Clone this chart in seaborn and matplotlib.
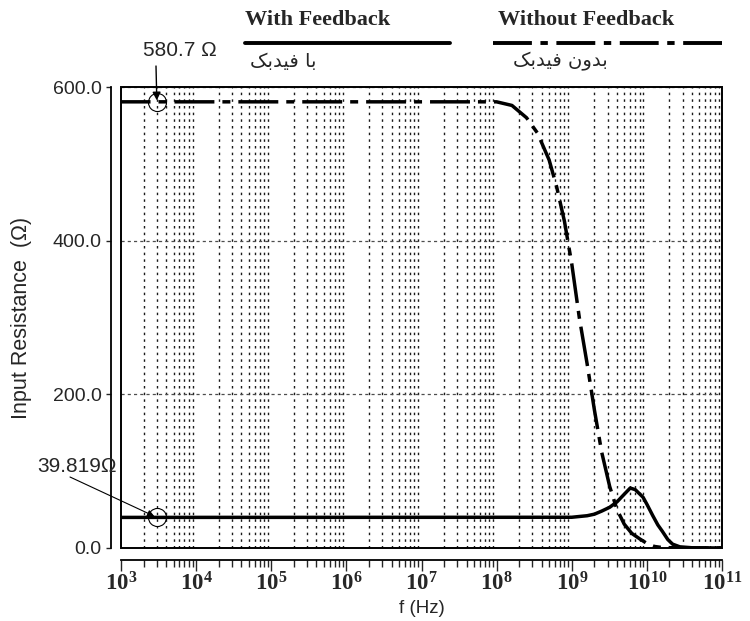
import numpy as np
import pandas as pd
import matplotlib
matplotlib.use('Agg')
import matplotlib.pyplot as plt
import seaborn as sns
from matplotlib.lines import Line2D
from matplotlib.patches import Rectangle
from matplotlib.ticker import FixedLocator, FuncFormatter, NullFormatter

# ---------------- data ----------------
freq_without = [1e3, 1e8, 1.6e8, 2.5e8, 3.5e8, 5e8, 6.3e8, 8e8, 1e9, 1.26e9,
                1.6e9, 2e9, 2.5e9, 3.2e9, 4e9, 5e9, 6.3e9, 8e9, 1e10, 1.26e10,
                1.6e10, 3.2e10, 1e11]
r_without = [580.7, 580.7, 576, 560, 540, 505, 470, 425, 370, 300,
             240, 180, 125, 80, 50, 31, 19, 12, 6, 2,
             0.6, 0, 0]

freq_with = [1e3, 1e9, 1.26e9, 1.6e9, 2e9, 2.5e9, 3.2e9, 4e9, 5e9, 6e9,
             7e9, 8.9e9, 1e10, 1.2e10, 1.4e10, 1.6e10, 1.9e10, 2.2e10, 2.75e10,
             4e10, 1e11]
r_with = [39.819, 40, 41, 42, 44, 48, 53, 60, 70, 78,
          76, 66, 57, 42, 30, 22, 11, 5, 1.5,
          0.3, 0]

y_ticks = [0, 200, 400, 600]
y_ticklabels = ['0.0', '200.0', '400.0', '600.0']
x_decades = [3, 4, 5, 6, 7, 8, 9, 10, 11]

label_with = 'With Feedback'
label_without = 'Without Feedback'
# Persian labels in shaped presentation forms, visual (left-to-right) order
fa_with = '\uFB8F\uFE91\uFEAA\uFBFF\uFED3 \uFE8E\uFE91'          # با فیدبک
fa_without = '\uFB8F\uFE91\uFEAA\uFBFF\uFED3 \uFEE5\uFEED\uFEAA\uFE91'  # بدون فیدبک

mark_freq = 3e3
mark_hi = 580.7
mark_lo = 39.819
mark_hi_text = '580.7 Ω'
mark_lo_text = '39.819Ω'

# ---------------- style ----------------
sns.set_style('white')
plt.rcParams['font.family'] = ['Liberation Sans', 'DejaVu Sans']
plt.rcParams['mathtext.fontset'] = 'custom'
plt.rcParams['mathtext.rm'] = 'Liberation Serif'
plt.rcParams['mathtext.it'] = 'Liberation Serif:italic'
plt.rcParams['mathtext.bf'] = 'Liberation Serif:bold'

W, H = 750, 621
fig = plt.figure(figsize=(W / 100, H / 100), dpi=100)
x0, x1, ytop, ybot = 121, 722, 87, 548
ax = fig.add_axes([x0 / W, 1 - ybot / H, (x1 - x0) / W, (ybot - ytop) / H])
ax.set_xscale('log')

dashdot = (3, (11.5, 2.3, 2.3, 2.3))
df_wo = pd.DataFrame({'f': freq_without, 'R': r_without})
df_w = pd.DataFrame({'f': freq_with, 'R': r_with})
sns.lineplot(data=df_wo, x='f', y='R', ax=ax, color='black', lw=2.5,
             linestyle=dashdot, errorbar=None, zorder=5)
sns.lineplot(data=df_w, x='f', y='R', ax=ax, color='black', lw=2.5,
             errorbar=None, zorder=5)

ax.set_xlim(1e3, 1e11)
ax.set_ylim(0, 600)

# ticks
ax.xaxis.set_major_locator(FixedLocator([10.0 ** d for d in x_decades]))
minors = [m * 10.0 ** d for d in x_decades[:-1] for m in range(2, 10)]
ax.xaxis.set_minor_locator(FixedLocator(minors))
ax.xaxis.set_major_formatter(FuncFormatter(
    lambda v, p: r'$\mathbf{10^{%d}}$' % int(round(np.log10(v)))))
ax.xaxis.set_minor_formatter(NullFormatter())
ax.set_yticks(y_ticks)
ax.set_yticklabels(y_ticklabels)

ax.tick_params(axis='x', which='major', direction='out', length=8, width=1,
               labelsize=16.5, pad=1, bottom=True)
ax.tick_params(axis='x', which='minor', direction='out', length=5, width=1,
               bottom=True)
ax.tick_params(axis='y', which='major', direction='out', length=3.5, width=1,
               labelsize=14, pad=3, left=True)

# grid
ax.grid(False)
ax.grid(which='minor', axis='x', color='0.1', linestyle=(0, (1.8, 3.0)), lw=1.0)
ax.grid(which='major', axis='y', color='0.3', linestyle=(0, (2.5, 2.5)), lw=0.9)

# spines: offset axes, plus a frame
for s in ['top', 'right']:
    ax.spines[s].set_visible(False)
ax.spines['bottom'].set_position(('outward', 8.5))
ax.spines['left'].set_position(('outward', 7.5))
for s in ['bottom', 'left']:
    ax.spines[s].set_color('black')
    ax.spines[s].set_linewidth(1.3)
ax.add_patch(Rectangle((0, 0), 1, 1, transform=ax.transAxes, fill=False,
                       ec='black', lw=1.4, clip_on=False, zorder=6))

ax.set_xlabel('f (Hz)', fontsize=13.5, labelpad=3)
ax.set_ylabel('Input Resistance  (Ω)', fontsize=15.5, labelpad=15)

# marker circles
ax.plot([mark_freq, mark_freq], [mark_hi, mark_lo], ls='none', marker='o',
        ms=13, mfc='none', mec='black', mew=0.8, zorder=7)

# annotations
ax.annotate('', xy=(mark_freq, mark_hi), xycoords='data',
            xytext=(156, H - 66), textcoords='figure pixels',
            arrowprops=dict(arrowstyle='-|>', color='black', lw=1,
                            mutation_scale=12, shrinkA=0, shrinkB=1))
fig.text(180 / W, 1 - 51 / H, mark_hi_text, fontsize=15, ha='center', va='center')
ax.annotate('', xy=(mark_freq, mark_lo), xycoords='data',
            xytext=(70, H - 477), textcoords='figure pixels',
            arrowprops=dict(arrowstyle='-|>', color='black', lw=0.8,
                            mutation_scale=10, shrinkA=0, shrinkB=2))
fig.text(77 / W, 1 - 466 / H, mark_lo_text, fontsize=15, ha='center', va='center')

# legend at top
serif = ['Liberation Serif', 'DejaVu Serif']
fig.text(318 / W, 1 - 20 / H, label_with, fontsize=16, fontweight='bold',
         family=serif, ha='center', va='center')
fig.text(586 / W, 1 - 20 / H, label_without, fontsize=16, fontweight='bold',
         family=serif, ha='center', va='center')
fig.add_artist(Line2D([245 / W, 450 / W], [1 - 43 / H, 1 - 43 / H], color='black',
                      lw=2.8, transform=fig.transFigure))
fig.add_artist(Line2D([493 / W, 722 / W], [1 - 43 / H, 1 - 43 / H], color='black',
                      lw=2.8, linestyle=(0, (10, 2.2, 1.9, 2.2)),
                      transform=fig.transFigure))
fig.text(283 / W, 1 - 61 / H, fa_with, fontsize=14,
         family=['DejaVu Sans'], ha='center', va='center')
fig.text(560 / W, 1 - 61 / H, fa_without, fontsize=14,
         family=['DejaVu Sans'], ha='center', va='center')

fig.savefig('out.png', dpi=100)
